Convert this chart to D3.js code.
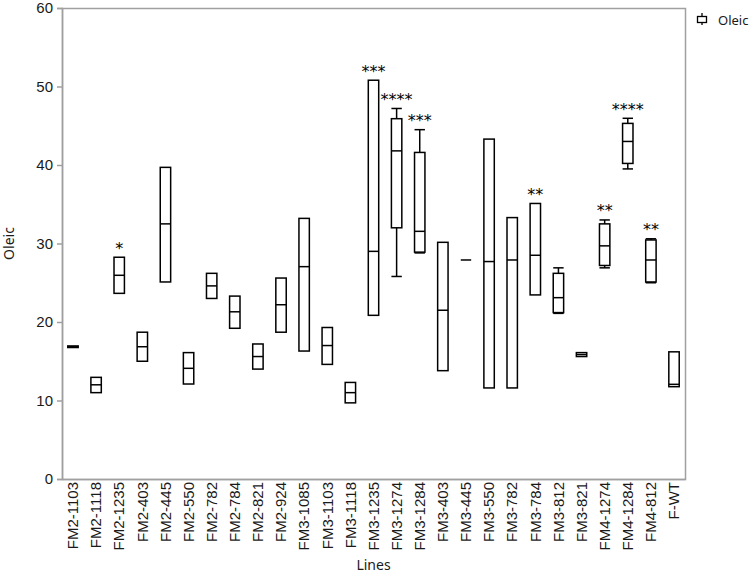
<!DOCTYPE html>
<html>
<head>
<meta charset="utf-8">
<script src="https://cdn.jsdelivr.net/npm/d3@7"></script>
<style>
body { margin: 0; background: #fff; }
svg { display: block; }
</style>
</head>
<body>
<svg class="chart" width="756" height="573"></svg>
<script>
var axiscolor = "#a0a0a0",
	textcolor = "#1a1a1a",
	boxcolor = "#000";

// values
var lines = ["FM2-1103", "FM2-1118", "FM2-1235", "FM2-403", "FM2-445", "FM2-550", "FM2-782", "FM2-784", "FM2-821", "FM2-924",
	"FM3-1085", "FM3-1103", "FM3-1118", "FM3-1235", "FM3-1274", "FM3-1284", "FM3-403", "FM3-445", "FM3-550", "FM3-782",
	"FM3-784", "FM3-812", "FM3-821", "FM4-1274", "FM4-1284", "FM4-812", "F-WT"];
var q1 = [16.75, 11.0, 23.65, 15.0, 25.1, 12.1, 23.0, 19.2, 14.0, 18.7,
	16.3, 14.6, 9.7, 20.85, 32.0, 28.9, 13.8, 27.9, 11.6, 11.6,
	23.45, 21.2, 15.6, 27.2, 40.2, 25.1, 11.76];
var median = [16.85, 12.0, 25.95, 16.85, 32.5, 14.1, 24.6, 21.3, 15.6, 22.2,
	27.05, 17.0, 11.0, 29.0, 41.8, 31.55, 21.5, 27.9, 27.7, 27.9,
	28.5, 23.1, 15.85, 29.7, 43.0, 27.9, 12.06];
var q3 = [16.95, 12.95, 28.25, 18.7, 39.7, 16.1, 26.2, 23.3, 17.2, 25.6,
	33.2, 19.3, 12.3, 50.8, 45.9, 41.6, 30.15, 27.9, 43.3, 33.3,
	35.1, 26.2, 16.1, 32.5, 45.3, 30.45, 16.2];
var whiskerLo = [16.75, 11.0, 23.65, 15.0, 25.1, 12.1, 23.0, 19.2, 14.0, 18.7,
	16.3, 14.6, 9.7, 20.85, 25.8, 28.8, 13.8, 27.9, 11.6, 11.6,
	23.45, 21.1, 15.6, 26.9, 39.5, 25.0, 11.76];
var whiskerHi = [16.95, 12.95, 28.25, 18.7, 39.7, 16.1, 26.2, 23.3, 17.2, 25.6,
	33.2, 19.3, 12.3, 50.8, 47.2, 44.5, 30.15, 27.9, 43.3, 33.3,
	35.1, 26.9, 16.1, 33.0, 45.95, 30.6, 16.2];
var stars = ["", "", "*", "", "", "", "", "", "", "",
	"", "", "", "***", "****", "***", "", "", "", "",
	"**", "", "", "**", "****", "**", ""];
var yTicks = [0, 10, 20, 30, 40, 50, 60];

var svg = d3.select(".chart"),
	margin = {top: 8, right: 71, bottom: 94, left: 62},
	width = +svg.attr("width") - margin.left - margin.right,
	height = +svg.attr("height") - margin.top - margin.bottom,
	g = svg.append("g").attr("transform", "translate(" + margin.left + "," + margin.top + ")");

var x = d3.scaleBand()
	.domain(lines)
	.range([0, width])
	.paddingInner(0.55)
	.paddingOuter(0.25);
var y = d3.scaleLinear()
	.domain([0, 60])
	.range([height, 0]);

var data = lines.map(function(d, i) {
	return {line: d, q1: q1[i], median: median[i], q3: q3[i], lo: whiskerLo[i], hi: whiskerHi[i], stars: stars[i]};
});

// frame
g.append("rect")
	.attr("x", 0.5)
	.attr("y", 0.5)
	.attr("width", width)
	.attr("height", height)
	.attr("fill", "none")
	.attr("stroke", axiscolor)
	.attr("stroke-width", 1.5);

var left = g.append("g")
	.call(d3.axisLeft(y).tickValues(yTicks).tickSize(5).tickPadding(4));
left.select(".domain").style("stroke", axiscolor).style("stroke-width", 1.5);
left.selectAll("line").style("stroke", axiscolor).style("stroke-width", 1.5);
left.selectAll("text")
	.style("fill", textcolor)
	.style("font-family", "Liberation Sans, Arial, sans-serif")
	.style("font-size", "15px");

var bot = g.append("g")
	.attr("transform", "translate(0," + height + ")")
	.call(d3.axisBottom(x).tickSize(0).tickPadding(3));
bot.select(".domain").style("stroke", axiscolor).style("stroke-width", 1.5);
bot.selectAll("text")
	.attr("transform", "rotate(-90)")
	.attr("text-anchor", "end")
	.attr("x", -3)
	.attr("y", 0)
	.attr("dy", "0.35em")
	.style("fill", textcolor)
	.style("font-family", "Liberation Sans, Arial, sans-serif")
	.style("font-size", "15px");

var bw = x.bandwidth();
var box = g.selectAll(".box")
	.data(data)
	.enter().append("g")
	.attr("class", "box")
	.attr("transform", function(d) { return "translate(" + x(d.line) + ",0)"; });

// whiskers
box.filter(function(d) { return d.hi > d.q3; }).append("line")
	.attr("x1", bw / 2).attr("x2", bw / 2)
	.attr("y1", function(d) { return y(d.hi); })
	.attr("y2", function(d) { return y(d.q3); })
	.attr("stroke", boxcolor).attr("stroke-width", 1.5);
box.filter(function(d) { return d.lo < d.q1; }).append("line")
	.attr("x1", bw / 2).attr("x2", bw / 2)
	.attr("y1", function(d) { return y(d.lo); })
	.attr("y2", function(d) { return y(d.q1); })
	.attr("stroke", boxcolor).attr("stroke-width", 1.5);
box.filter(function(d) { return d.hi > d.q3; }).append("line")
	.attr("x1", 0).attr("x2", bw)
	.attr("y1", function(d) { return y(d.hi); })
	.attr("y2", function(d) { return y(d.hi); })
	.attr("stroke", boxcolor).attr("stroke-width", 1.5);
box.filter(function(d) { return d.lo < d.q1; }).append("line")
	.attr("x1", 0).attr("x2", bw)
	.attr("y1", function(d) { return y(d.lo); })
	.attr("y2", function(d) { return y(d.lo); })
	.attr("stroke", boxcolor).attr("stroke-width", 1.5);

box.append("rect")
	.attr("x", 0)
	.attr("width", bw)
	.attr("y", function(d) { return y(d.q3); })
	.attr("height", function(d) { return y(d.q1) - y(d.q3); })
	.attr("fill", "none")
	.attr("stroke", boxcolor)
	.attr("stroke-width", 1.5);
box.append("line")
	.attr("x1", 0).attr("x2", bw)
	.attr("y1", function(d) { return y(d.median); })
	.attr("y2", function(d) { return y(d.median); })
	.attr("stroke", boxcolor)
	.attr("stroke-width", 1.5);

box.filter(function(d) { return d.stars; }).append("text")
	.attr("x", bw / 2)
	.attr("y", function(d) { return y(d.hi) - 3.5; })
	.attr("text-anchor", "middle")
	.style("font-family", "DejaVu Sans, sans-serif")
	.style("font-size", "16px")
	.style("fill", "#000")
	.text(function(d) { return d.stars; });

// axis titles
svg.append("text")
	.attr("transform", "translate(14," + (margin.top + height / 2) + ") rotate(-90)")
	.attr("text-anchor", "middle")
	.style("font-family", "Noto Sans, sans-serif")
	.style("font-size", "14px")
	.style("fill", textcolor)
	.text("Oleic");
svg.append("text")
	.attr("x", margin.left + width / 2)
	.attr("y", 570)
	.attr("text-anchor", "middle")
	.style("font-family", "Noto Sans, sans-serif")
	.style("font-size", "14px")
	.style("fill", textcolor)
	.text("Lines");

// legend
var leg = svg.append("g").attr("transform", "translate(702,20)");
leg.append("line").attr("x1", 0).attr("x2", 0).attr("y1", -7).attr("y2", 5)
	.attr("stroke", boxcolor).attr("stroke-width", 1.3);
leg.append("rect").attr("x", -4.5).attr("y", -3.5).attr("width", 9).attr("height", 6)
	.attr("fill", "#fff").attr("stroke", boxcolor).attr("stroke-width", 1.3);
leg.append("text")
	.attr("x", 16)
	.attr("y", 0)
	.attr("dy", "0.35em")
	.style("font-family", "Noto Sans, sans-serif")
	.style("font-size", "13px")
	.style("fill", textcolor)
	.text("Oleic");
</script>
</body>
</html>
